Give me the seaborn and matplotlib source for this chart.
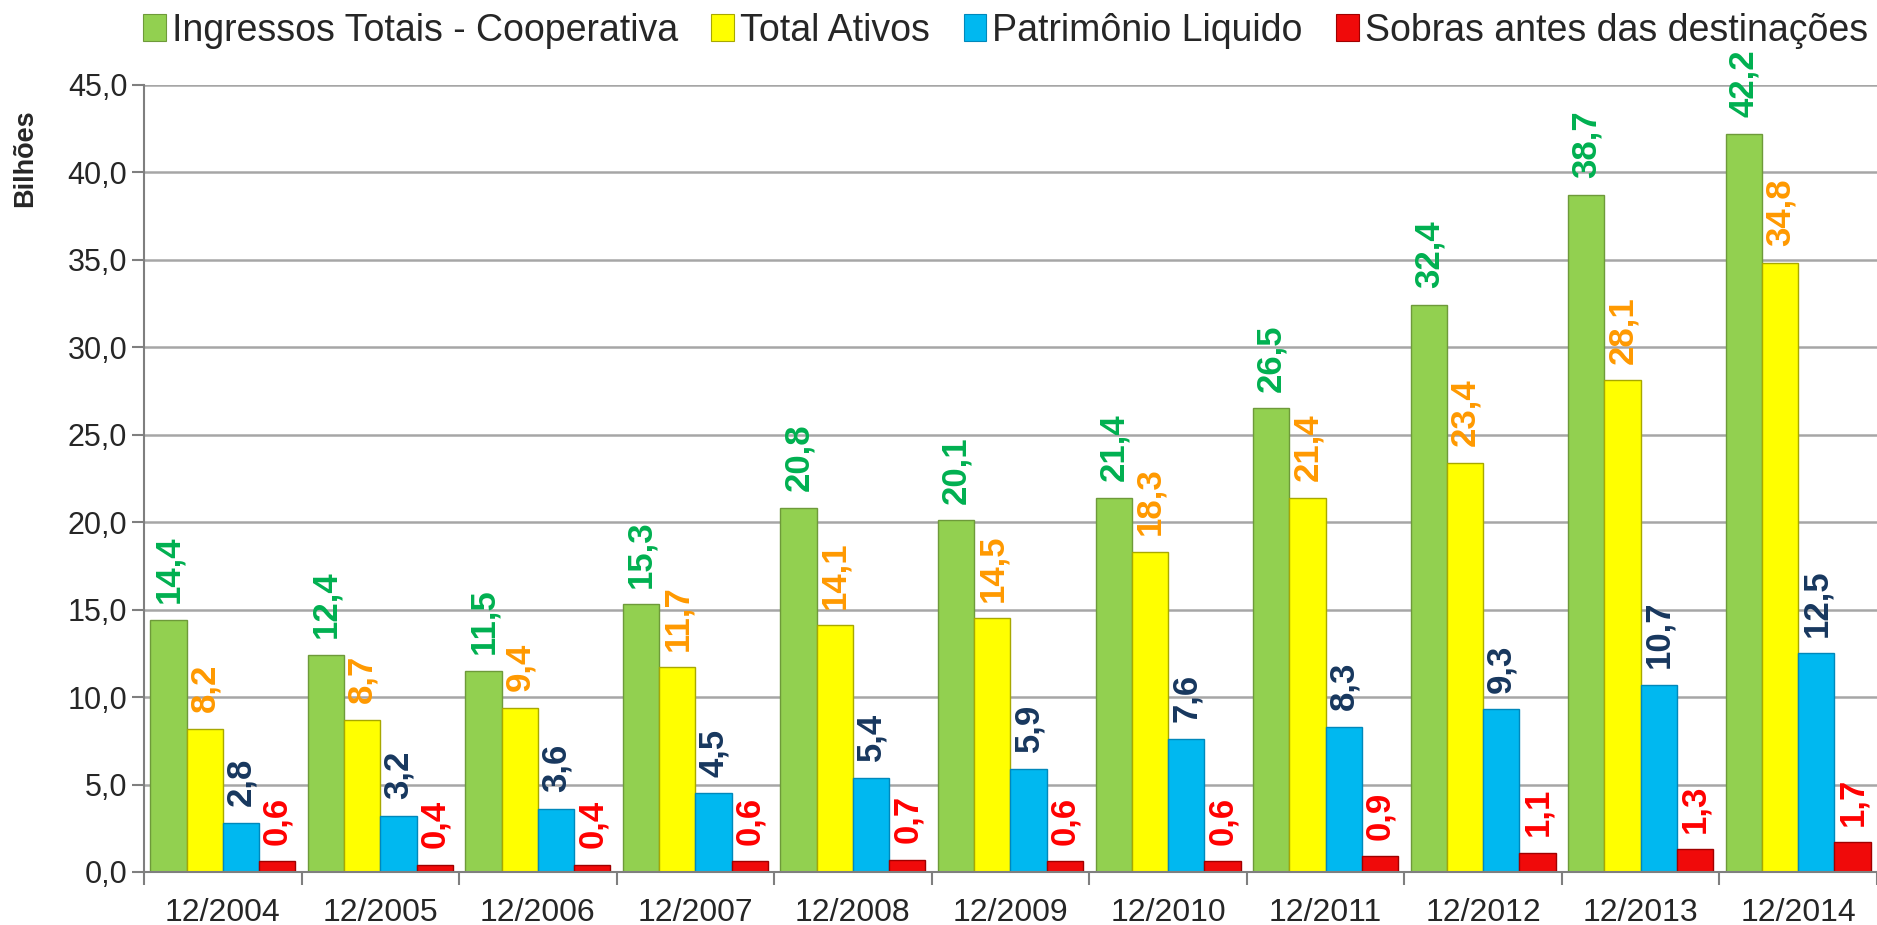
import numpy as np
import pandas as pd
import matplotlib
matplotlib.use('Agg')
import matplotlib.pyplot as plt
import seaborn as sns
from matplotlib.patches import Patch
from matplotlib.ticker import FuncFormatter, FixedLocator

periods = ['12/2004', '12/2005', '12/2006', '12/2007', '12/2008', '12/2009',
           '12/2010', '12/2011', '12/2012', '12/2013', '12/2014']
ingressos = [14.4, 12.4, 11.5, 15.3, 20.8, 20.1, 21.4, 26.5, 32.4, 38.7, 42.2]
ativos = [8.2, 8.7, 9.4, 11.7, 14.1, 14.5, 18.3, 21.4, 23.4, 28.1, 34.8]
patrimonio = [2.8, 3.2, 3.6, 4.5, 5.4, 5.9, 7.6, 8.3, 9.3, 10.7, 12.5]
sobras = [0.6, 0.4, 0.4, 0.6, 0.7, 0.6, 0.6, 0.9, 1.1, 1.3, 1.7]

series_names = ['Ingressos Totais - Cooperativa', 'Total Ativos',
                'Patrimônio Liquido', 'Sobras antes das destinações']
bar_colors = ['#92D050', '#FFFF00', '#00B8F0', '#F00A0A']
edge_colors = ['#6E9A3A', '#A8A800', '#0088BB', '#A00000']
label_colors = ['#00B050', '#FF9900', '#17375E', '#FF0000']

df = pd.DataFrame({
    'periodo': periods * 4,
    'serie': np.repeat(series_names, len(periods)),
    'valor': ingressos + ativos + patrimonio + sobras,
})

sns.set_style('white')
plt.rcParams['font.family'] = ['Liberation Sans', 'DejaVu Sans']

fig = plt.figure(figsize=(18.77, 9.25), dpi=100)
# axes runs to the right edge of the figure, as in the original
ax = fig.add_axes([0.0767, 0.0573, 0.9233, 0.8513])

sns.barplot(data=df, x='periodo', y='valor', hue='serie', hue_order=series_names,
            palette=bar_colors, saturation=1, width=0.92, gap=0, ax=ax, legend=False)

for i, cont in enumerate(ax.containers):
    for patch in cont:
        patch.set_edgecolor(edge_colors[i])
        patch.set_linewidth(1.0)
    vals = [p.get_height() for p in cont]
    labels = [f'{v:.1f}'.replace('.', ',') for v in vals]
    ax.bar_label(cont, labels=labels, rotation=90, padding=12,
                 color=label_colors[i], fontweight='bold', fontsize=25)

ax.set_ylim(0, 45)
ax.set_xlim(-0.5, len(periods) - 0.5)
ax.yaxis.set_major_locator(FixedLocator(np.arange(0, 46, 5)))
ax.yaxis.set_major_formatter(FuncFormatter(lambda v, p: f'{v:.1f}'.replace('.', ',')))
ax.yaxis.grid(True, color='#A6A6A6', linewidth=1.8)
ax.set_axisbelow(True)

ax.xaxis.set_minor_locator(FixedLocator(np.arange(-0.5, len(periods), 1)))
ax.tick_params(axis='x', which='major', length=0, labelsize=23, pad=19)
ax.tick_params(axis='x', which='minor', length=9, width=1.5, color='#7F7F7F', bottom=True)
ax.tick_params(axis='y', which='major', length=9, width=1.5, color='#7F7F7F',
               labelsize=22, left=True, pad=3)

for s in ['top', 'right']:
    ax.spines[s].set_visible(False)
for s in ['left', 'bottom']:
    ax.spines[s].set_color('#7F7F7F')
    ax.spines[s].set_linewidth(1.5)

ax.set_xlabel('')
ax.set_ylabel('')
fig.text(0.0135, 0.829, 'Bilhões', rotation=90, fontsize=19.5, fontweight='bold',
         ha='center', va='center')

handles = [Patch(facecolor=c, edgecolor=e, linewidth=0.8) for c, e in zip(bar_colors, edge_colors)]
fig.legend(handles, series_names, loc='center left', bbox_to_anchor=(0.0762, 0.967),
           ncol=4, frameon=False, fontsize=27, handlelength=0.6, handleheight=0.7,
           handletextpad=0.16, columnspacing=0.9, borderpad=0, borderaxespad=0)

fig.savefig('out.png', dpi=100)
